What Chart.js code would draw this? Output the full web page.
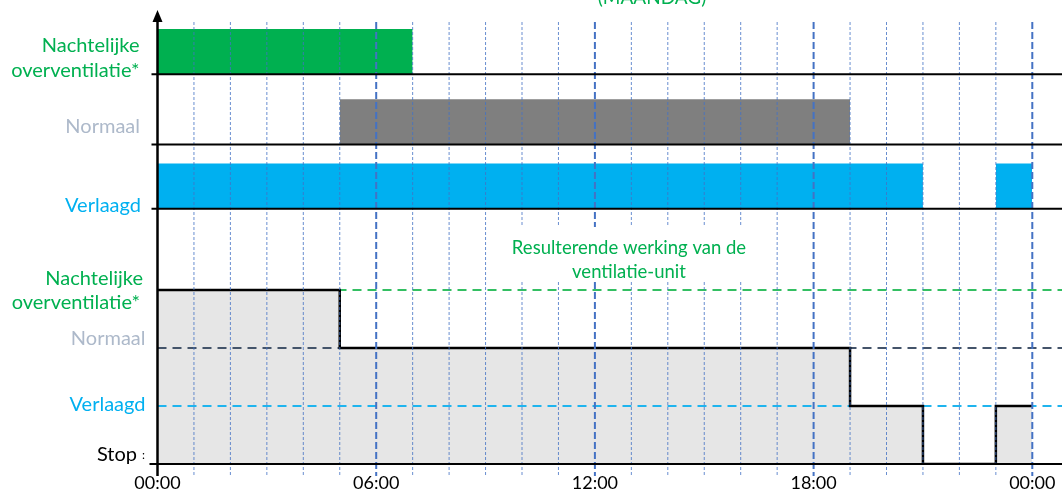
<!DOCTYPE html>
<html>
<head>
<meta charset="utf-8">
<script src="https://cdn.jsdelivr.net/npm/chart.js@4.4.1/dist/chart.umd.min.js"></script>
<style>
  html, body { margin: 0; padding: 0; background: #ffffff; overflow: hidden; }
  #wrap { width: 1062px; height: 490px; position: relative; }
  canvas { display: block; }
</style>
</head>
<body>
<div id="wrap"><canvas id="c" width="1062" height="490"></canvas></div>
<script>
// Hours of the day (x axis) and the labels printed every six hours
const hourTicks = [0, 1, 2, 3, 4, 5, 6, 7, 8, 9, 10, 11, 12, 13, 14, 15, 16, 17, 18, 19, 20, 21, 22, 23, 24];
const tickLabels = ['00:00', '06:00', '12:00', '18:00', '00:00'];

// Operating levels of the ventilation unit
const levelNames = ['Stop', 'Verlaagd', 'Normaal', 'Nachtelijke overventilatie*'];
const levelValues = [0, 1, 2, 3];

// Switching programme per mode, [from, to] in hours
const nachtPeriods = [[0, 7]];
const normaalPeriods = [[5, 19]];
const verlaagdPeriods = [[0, 21], [23, 24]];

// Resulting operation: level held from each switching moment onward
const resultTimes = [0, 5, 19, 21, 23, 24];
const resultLevels = [3, 2, 1, 0, 1, 1];

// Layout of the upper programme rows on the shared value axis
const Y_MAX = 7.62;
const ROW_BASES = [4.4, 5.51, 6.72];
const BAR_H = 0.78;
const rowBase = row => ROW_BASES[row];

const GREEN = '#00b050';
const GREY = '#7f7f7f';
const BLUE = '#00b0f0';
const FONT = 'Lato, "Open Sans", sans-serif';

function barSets(periods, row, color) {
  const base = rowBase(row);
  return periods.map(([from, to]) => ({
    data: [{ x: from, y: base + BAR_H }, { x: to, y: base + BAR_H }],
    borderWidth: 0,
    backgroundColor: color,
    fill: { value: base },
    pointRadius: 0,
    order: 4
  }));
}

const refColors = { 1: '#1fb4ee', 2: '#44546a', 3: '#33bf62' };
const refSets = levelValues.filter(v => v > 0).map(v => ({
  data: [{ x: 0, y: v }, { x: 25, y: v }],
  borderColor: refColors[v],
  borderWidth: 2,
  borderDash: [9, 6],
  fill: false,
  pointRadius: 0,
  clip: false,
  order: 1
}));

const resultPoints = resultTimes.map((t, i) => ({ x: t, y: resultLevels[i] }));

const datasets = [
  {
    data: resultPoints,
    stepped: 'before',
    borderColor: '#000000',
    borderWidth: 2.5,
    borderJoinStyle: 'miter',
    fill: false,
    pointRadius: 0,
    order: 0
  },
  ...refSets,
  {
    data: resultPoints,
    stepped: 'before',
    borderWidth: 0,
    backgroundColor: '#e6e6e6',
    fill: 'origin',
    pointRadius: 0,
    order: 3
  },
  ...barSets(verlaagdPeriods, 0, BLUE),
  ...barSets(normaalPeriods, 1, GREY),
  ...barSets(nachtPeriods, 2, GREEN)
];

function text(ctx, str, x, y, color, size, align) {
  ctx.save();
  ctx.font = size + 'px ' + FONT;
  ctx.fillStyle = color;
  ctx.textAlign = align || 'right';
  ctx.textBaseline = 'alphabetic';
  ctx.fillText(str, x, y);
  ctx.restore();
}

const decor = {
  id: 'decor',
  afterDatasetsDraw(chart) {
    const ctx = chart.ctx;
    const xs = chart.scales.x, ys = chart.scales.y;
    const area = chart.chartArea;
    const W = chart.width;

    // hourly grid, heavier every six hours
    hourTicks.forEach(h => {
      if (h === 0) return;
      const x = xs.getPixelForValue(h);
      const major = h % 6 === 0;
      ctx.save();
      ctx.beginPath();
      ctx.strokeStyle = major ? '#4472c4' : 'rgba(68,114,196,0.8)';
      ctx.lineWidth = major ? 2 : 1;
      ctx.setLineDash(major ? [7, 3] : [3, 2]);
      ctx.moveTo(x, area.top);
      ctx.lineTo(x, area.bottom + 12);
      ctx.stroke();
      ctx.restore();
    });

    ctx.save();
    ctx.strokeStyle = '#000000';
    ctx.fillStyle = '#000000';
    // row baselines of the programme
    [0, 1, 2].forEach(r => {
      const y = ys.getPixelForValue(rowBase(r));
      ctx.beginPath();
      ctx.lineWidth = 2;
      ctx.moveTo(area.left - 6, y);
      ctx.lineTo(W, y);
      ctx.stroke();
    });
    // time axis
    const y0 = ys.getPixelForValue(0);
    ctx.beginPath();
    ctx.lineWidth = 2;
    ctx.moveTo(area.left - 8, y0);
    ctx.lineTo(W, y0);
    ctx.stroke();
    // vertical axis with arrow
    const x0 = xs.getPixelForValue(0);
    ctx.beginPath();
    ctx.lineWidth = 2.5;
    ctx.moveTo(x0, area.top - 6);
    ctx.lineTo(x0, area.bottom + 12);
    ctx.stroke();
    ctx.beginPath();
    ctx.moveTo(x0, 10);
    ctx.lineTo(x0 - 5, 22);
    ctx.lineTo(x0 + 5, 22);
    ctx.closePath();
    ctx.fill();
    ctx.restore();
  },
  afterDraw(chart) {
    const ctx = chart.ctx;
    const ys = chart.scales.y;
    const py = v => ys.getPixelForValue(v);

    // caption box
    ctx.save();
    ctx.fillStyle = '#ffffff';
    ctx.fillRect(518, 227, 252, 55);
    ctx.restore();
    text(ctx, 'Resulterende werking van de', 629, 254, GREEN, 18.5, 'center');
    text(ctx, 'ventilatie-unit', 629, 277.5, GREEN, 18.5, 'center');

    text(ctx, '(MAANDAG)', 652, 4, GREEN, 19, 'center');

    // programme row labels
    const nb = py(rowBase(2));
    text(ctx, 'Nachtelijke', 139.5, nb - 22, GREEN, 20);
    text(ctx, 'overventilatie*', 139.5, nb + 3, GREEN, 20);
    text(ctx, 'Normaal', 140, py(rowBase(1)) - 11, '#adb9ca', 20);
    text(ctx, 'Verlaagd', 141, py(rowBase(0)) + 3, BLUE, 20);

    // level labels of the resulting operation
    text(ctx, 'Nachtelijke', 143, py(3) - 5, GREEN, 20);
    text(ctx, 'overventilatie*', 140, py(3) + 19, GREEN, 20);
    text(ctx, 'Normaal', 145.5, py(2) - 3, '#adb9ca', 20);
    text(ctx, 'Verlaagd', 145.5, py(1) + 5, BLUE, 20);
    text(ctx, 'Stop', 137, py(0) - 3, '#000000', 20);
    text(ctx, ':', 145, py(0) - 5, '#000000', 12);
  }
};

function draw() {
  new Chart(document.getElementById('c'), {
    type: 'line',
    data: { datasets },
    options: {
      responsive: false,
      animation: false,
      devicePixelRatio: 1,
      layout: { padding: { left: 157.5, right: 29.7, top: 22, bottom: 0 } },
      plugins: { legend: { display: false }, tooltip: { enabled: false } },
      elements: { point: { radius: 0 } },
      scales: {
        x: {
          type: 'linear',
          min: 0,
          max: 24,
          grid: { display: false },
          border: { display: false },
          afterBuildTicks: s => { s.ticks = hourTicks.map(v => ({ value: v })); },
          afterFit: s => { s.height = 26; s.paddingLeft = 0; s.paddingRight = 0; },
          ticks: {
            autoSkip: false,
            maxRotation: 0,
            padding: 0,
            color: '#000000',
            font: { family: FONT, size: 18 },
            callback: v => (v % 6 === 0 ? tickLabels[v / 6] : '')
          }
        },
        y: { type: 'linear', display: false, min: 0, max: Y_MAX }
      }
    },
    plugins: [decor]
  });
}

if (document.fonts && document.fonts.load) {
  document.fonts.load('18px Lato').then(draw, draw);
} else {
  draw();
}
</script>
</body>
</html>
